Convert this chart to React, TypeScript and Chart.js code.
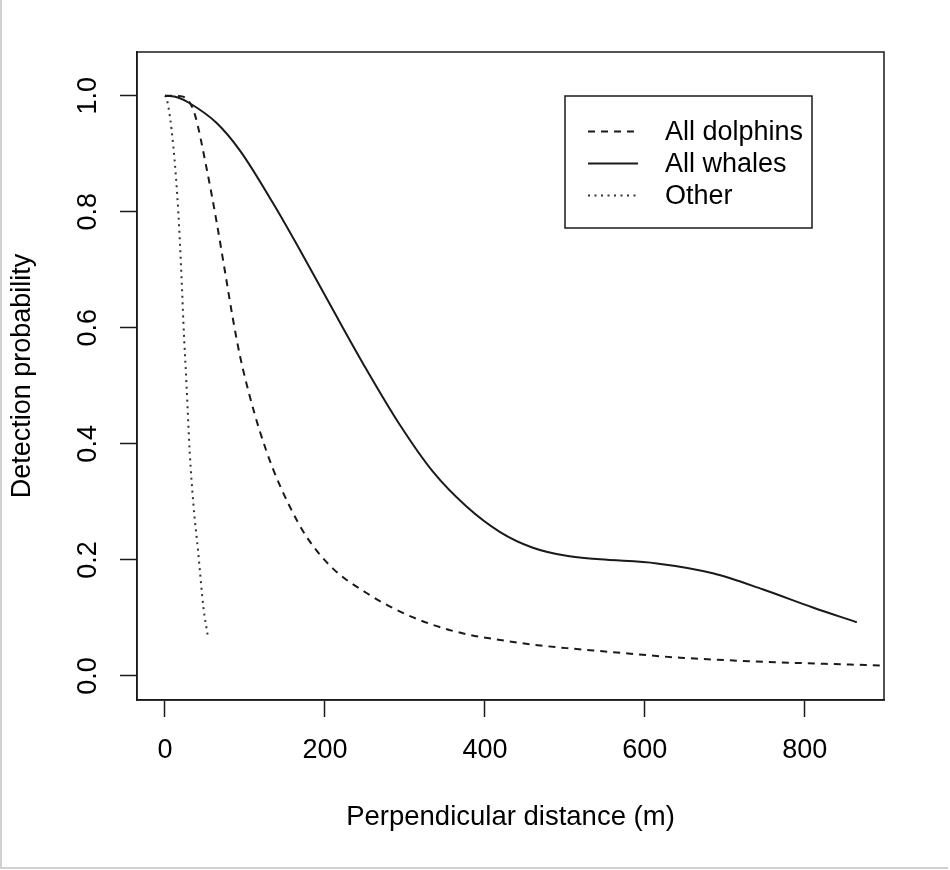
import React, { useEffect, useRef } from "react";
import { Chart, registerables } from "chart.js";

Chart.register(...registerables);

// series names, in legend order
const seriesNames = ["All dolphins", "All whales", "Other"];

// perpendicular distance (m) and detection probability
const dolphinDist = [0, 20, 30, 37.5, 52, 64.6, 75, 84.6, 94, 106, 119, 135, 156, 177, 210, 252, 294, 335, 377, 419, 460, 502, 544, 644, 769, 900];
const dolphinProb = [1.0, 0.999, 0.99, 0.967, 0.875, 0.782, 0.697, 0.618, 0.55, 0.482, 0.42, 0.357, 0.292, 0.24, 0.185, 0.143, 0.111, 0.088, 0.072, 0.062, 0.054, 0.048, 0.043, 0.0315, 0.0235, 0.018];

const whaleDist = [0, 16, 31, 64.6, 94, 135, 172, 210, 252, 294, 335, 377, 419, 460, 502, 544, 615, 685, 748, 810, 865];
const whaleProb = [1.0, 0.997, 0.987, 0.953, 0.905, 0.815, 0.726, 0.631, 0.528, 0.432, 0.352, 0.292, 0.248, 0.221, 0.207, 0.201, 0.194, 0.177, 0.149, 0.118, 0.0925];

const otherDist = [0, 2, 10.4, 16.7, 20.8, 23, 27, 31, 35.4, 41.6, 48, 54];
const otherProb = [1.0, 0.996, 0.913, 0.798, 0.683, 0.61, 0.499, 0.384, 0.298, 0.2115, 0.119, 0.065];

const xTicks = [0, 200, 400, 600, 800];
const yTicks = [0, 0.2, 0.4, 0.6, 0.8, 1.0];

const xTitle = "Perpendicular distance (m)";
const yTitle = "Detection probability";

const FONT = "'Liberation Sans', Arial, Helvetica, sans-serif";
const INK = "#1a1a1a";

// draws the box round the plot region and the legend, like R's box() + legend()
const plotBox = {
  id: "plotBox",
  afterDraw(chart: any) {
    const { ctx, chartArea } = chart;
    ctx.save();
    ctx.lineWidth = 1.5;
    ctx.strokeStyle = INK;
    ctx.setLineDash([]);
    ctx.strokeRect(chartArea.left, chartArea.top, chartArea.right - chartArea.left, chartArea.bottom - chartArea.top);

    // legend
    const lx = chartArea.right - 319;
    const ly = chartArea.top + 44;
    ctx.strokeRect(lx, ly, 247, 132);
    chart.data.datasets.forEach((ds: any, i: number) => {
      const y = ly + 35.5 + i * 32;
      ctx.beginPath();
      ctx.setLineDash(ds.borderDash || []);
      ctx.lineWidth = ds.borderWidth;
      ctx.strokeStyle = ds.borderColor;
      ctx.moveTo(lx + 23, y);
      ctx.lineTo(lx + 73, y);
      ctx.stroke();
      ctx.setLineDash([]);
      ctx.fillStyle = "#000";
      ctx.font = `27px ${FONT}`;
      ctx.textBaseline = "middle";
      ctx.textAlign = "left";
      ctx.fillText(ds.label, lx + 100, y + 1);
    });
    ctx.restore();
  },
};

const toPoints = (xs: number[], ys: number[]) =>
  xs.map((x, i) => ({ x, y: ys[i] }));

const DetectionChart = () => {
  const canvasRef = useRef<HTMLCanvasElement>(null);
  const chartRef = useRef<Chart | null>(null);

  useEffect(() => {
    if (!canvasRef.current) return;

    chartRef.current?.destroy();

    chartRef.current = new Chart(canvasRef.current, {
      type: "line",
      data: {
        datasets: [
          {
            label: seriesNames[0],
            data: toPoints(dolphinDist, dolphinProb),
            borderColor: INK,
            borderWidth: 2,
            borderDash: [7, 6],
          },
          {
            label: seriesNames[1],
            data: toPoints(whaleDist, whaleProb),
            borderColor: INK,
            borderWidth: 2,
            borderDash: [],
          },
          {
            label: seriesNames[2],
            data: toPoints(otherDist, otherProb),
            borderColor: "#333",
            borderWidth: 2,
            borderDash: [2, 4.5],
          },
        ],
      },
      options: {
        responsive: true,
        maintainAspectRatio: false,
        animation: false,
        layout: {
          padding: { left: 0, top: 52, right: 66, bottom: 0 },
        },
        elements: {
          point: { radius: 0 },
          line: { cubicInterpolationMode: "monotone", fill: false },
        },
        plugins: {
          legend: { display: false },
          tooltip: { enabled: false },
        },
        scales: {
          x: {
            type: "linear",
            min: -35,
            max: 899,
            afterBuildTicks: (scale: any) => {
              scale.ticks = xTicks.map((v) => ({ value: v }));
            },
            afterFit: (scale: any) => {
              scale.height = 170;
            },
            grid: {
              drawOnChartArea: false,
              drawTicks: true,
              tickLength: 17,
              tickWidth: 1.5,
              tickColor: INK,
            },
            border: { display: true, color: INK, width: 1.5 },
            ticks: {
              padding: 17,
              color: "#000",
              font: { family: FONT, size: 27 },
              maxRotation: 0,
              callback: (v: any) => String(v),
            },
            title: {
              display: true,
              text: xTitle,
              color: "#000",
              font: { family: FONT, size: 27.5 },
              padding: { top: 0, bottom: 36 },
            },
          },
          y: {
            type: "linear",
            min: -0.0414,
            max: 1.0753,
            afterBuildTicks: (scale: any) => {
              scale.ticks = yTicks.map((v) => ({ value: v }));
            },
            afterFit: (scale: any) => {
              scale.width = 137;
            },
            grid: {
              drawOnChartArea: false,
              drawTicks: true,
              tickLength: 17,
              tickWidth: 1.5,
              tickColor: INK,
            },
            border: { display: true, color: INK, width: 1.5 },
            ticks: {
              padding: 13,
              color: "#000",
              font: { family: FONT, size: 27 },
              minRotation: 90,
              maxRotation: 90,
              crossAlign: "center",
              callback: (v: any) => Number(v).toFixed(1),
            },
            title: {
              display: true,
              text: yTitle,
              color: "#000",
              font: { family: FONT, size: 27 },
              padding: { top: 6, bottom: 0 },
            },
          },
        },
      },
      plugins: [plotBox],
    } as any);

    return () => {
      chartRef.current?.destroy();
    };
  }, []);

  return (
    <div style={{ position: "fixed", left: 0, top: 0, width: 950, height: 870, background: "#fff" }}>
      <canvas ref={canvasRef} />
      <div
        style={{
          position: "absolute",
          left: 0,
          top: 0,
          width: 948,
          height: 869,
          boxSizing: "border-box",
          borderLeft: "2px solid #d0d0d0",
          borderBottom: "2px solid #d0d0d0",
          pointerEvents: "none",
        }}
      />
    </div>
  );
};

export default function App() {
  return <DetectionChart />;
}
